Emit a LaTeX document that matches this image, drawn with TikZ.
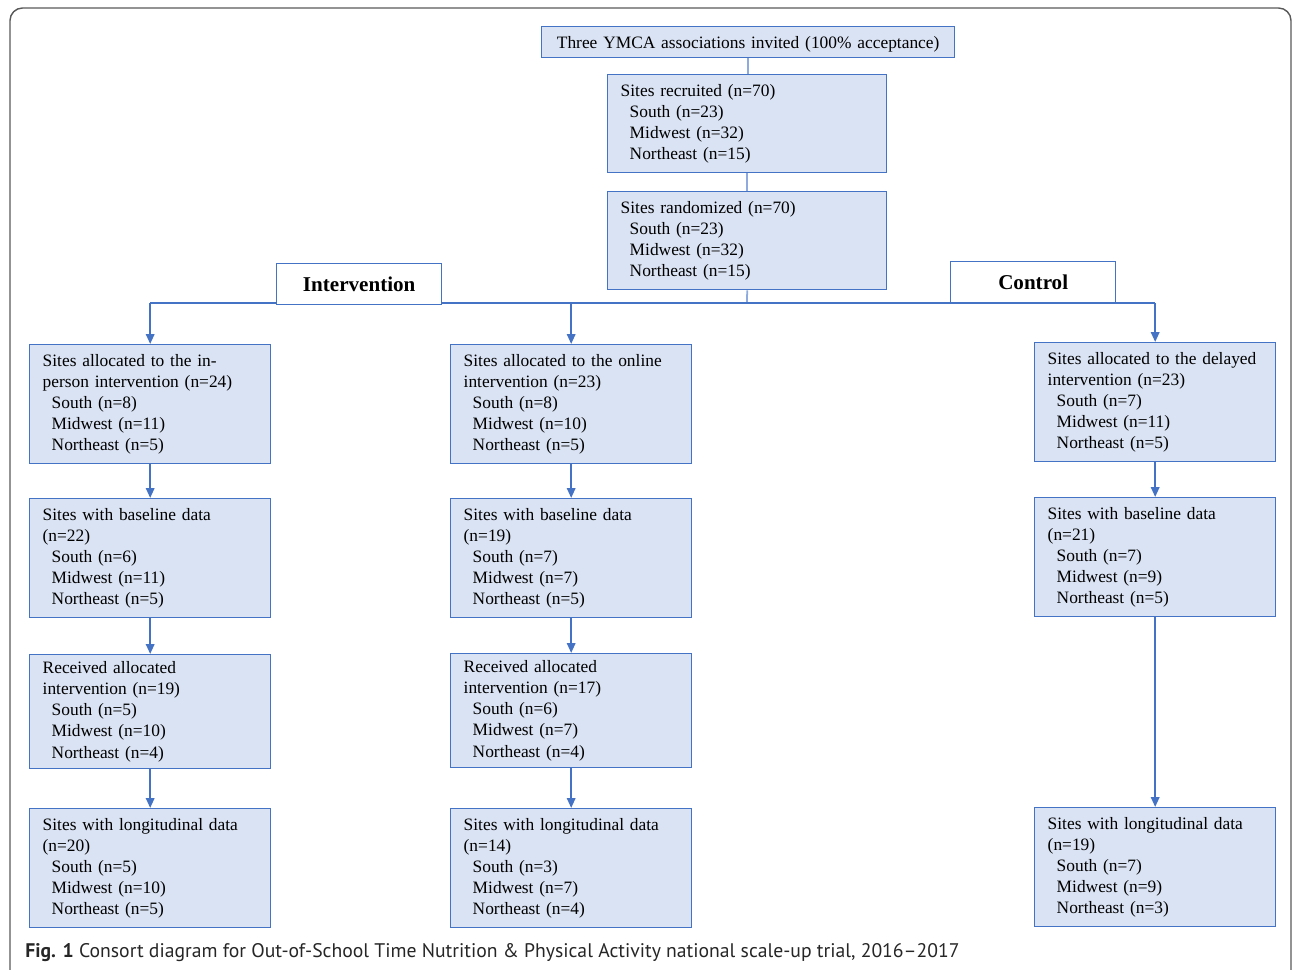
\documentclass[tikz,border=0pt]{standalone}
\usepackage{fontspec}
\setmainfont{Liberation Serif}
\newfontfamily\capfont{PT Sans}
\usetikzlibrary{arrows.meta,positioning,calc}

\definecolor{boxfill}{HTML}{DAE3F3}
\definecolor{boxline}{HTML}{4472C4}
\definecolor{lightline}{HTML}{8FAADC}

\newcommand{\regind}{\hspace*{0.18cm}}

\tikzset{
  sitebox/.style={draw=boxline, fill=boxfill, line width=0.8pt, anchor=north west,
    align=left, inner xsep=0.26cm, inner ysep=0pt, text width=4.30cm,
    minimum height=2.38cm, font=\fontsize{9.9}{12}\selectfont},
  armbox/.style={draw=boxline, fill=white, line width=0.8pt, anchor=north west,
    minimum width=3.3cm, minimum height=0.82cm, inner sep=0pt,
    font=\fontsize{12}{14}\selectfont\bfseries},
  flow/.style={draw=boxline, line width=1.1pt, -{Triangle[length=0.2cm,width=0.17cm]}},
  plain/.style={draw=lightline, line width=1pt},
}

\begin{document}
\begin{tikzpicture}[x=0.02cm,y=-0.02cm]
\clip (0,0) rectangle (1292,970);
\draw[gray!70!black, line width=0.8pt, rounded corners=0.25cm] (10,8) rectangle (1291,1010);

% top of the trial
\node[sitebox, align=center, text width=8.26cm, inner xsep=0pt, minimum height=0.62cm, text depth=0pt] (top) at (541,26)
  {Three YMCA associations invited (100\% acceptance)};
\node[sitebox, text width=5.06cm, minimum height=1.96cm] (recruit) at (607,74)
  {Sites recruited (n=70)\\\regind South (n=23)\\\regind Midwest (n=32)\\\regind Northeast (n=15)};
\node[sitebox, text width=5.06cm, minimum height=1.96cm] (random) at (607,191)
  {Sites randomized (n=70)\\\regind South (n=23)\\\regind Midwest (n=32)\\\regind Northeast (n=15)};

% intervention arms
\node[sitebox] (alloc1) at (29,344)
  {Sites allocated to the in-\\person intervention (n=24)\\\regind South (n=8)\\\regind Midwest (n=11)\\\regind Northeast (n=5)};
\node[sitebox] (base1) at (29,498)
  {Sites with baseline data\\(n=22)\\\regind South (n=6)\\\regind Midwest (n=11)\\\regind Northeast (n=5)};
\node[sitebox, minimum height=2.28cm] (recv1) at (29,654)
  {Received allocated\\intervention (n=19)\\\regind South (n=5)\\\regind Midwest (n=10)\\\regind Northeast (n=4)};
\node[sitebox] (long1) at (29,808)
  {Sites with longitudinal data\\(n=20)\\\regind South (n=5)\\\regind Midwest (n=10)\\\regind Northeast (n=5)};

\node[sitebox] (alloc2) at (450,344)
  {Sites allocated to the online\\intervention (n=23)\\\regind South (n=8)\\\regind Midwest (n=10)\\\regind Northeast (n=5)};
\node[sitebox] (base2) at (450,498)
  {Sites with baseline data\\(n=19)\\\regind South (n=7)\\\regind Midwest (n=7)\\\regind Northeast (n=5)};
\node[sitebox, minimum height=2.28cm] (recv2) at (450,653)
  {Received allocated\\intervention (n=17)\\\regind South (n=6)\\\regind Midwest (n=7)\\\regind Northeast (n=4)};
\node[sitebox] (long2) at (450,808)
  {Sites with longitudinal data\\(n=14)\\\regind South (n=3)\\\regind Midwest (n=7)\\\regind Northeast (n=4)};

% control arm
\node[sitebox] (alloc3) at (1034,342)
  {\mbox{Sites allocated to the delayed}\\intervention (n=23)\\\regind South (n=7)\\\regind Midwest (n=11)\\\regind Northeast (n=5)};
\node[sitebox] (base3) at (1034,497)
  {Sites with baseline data\\(n=21)\\\regind South (n=7)\\\regind Midwest (n=9)\\\regind Northeast (n=5)};
\node[sitebox] (long3) at (1034,807)
  {Sites with longitudinal data\\(n=19)\\\regind South (n=7)\\\regind Midwest (n=9)\\\regind Northeast (n=3)};

% connectors
\coordinate (split) at (747,303);
\draw[plain] (top.south) -- (top.south |- recruit.north);
\draw[plain] (recruit.south) -- (random.north);
\draw[plain] (random.south) -- (split);
\draw[boxline, line width=1.1pt] (alloc1.north |- split) -- (alloc3.north |- split);
\draw[flow] (alloc1.north |- split) -- (alloc1.north);
\draw[flow] (alloc2.north |- split) -- (alloc2.north);
\draw[flow] (alloc3.north |- split) -- (alloc3.north);

\node[armbox] (interv) at (276,263) {Intervention};
\node[armbox] (control) at (950,261) {Control};

\foreach \col in {1,2}
  {
    \draw[flow] (alloc\col) -- (base\col);
    \draw[flow] (base\col) -- (recv\col);
    \draw[flow] (recv\col) -- (long\col);
  }
\draw[flow] (alloc3) -- (base3);
\draw[flow] (base3) -- (long3);

% caption
\node[anchor=west, inner sep=0pt, text=black!85, font=\capfont\fontsize{11.2}{13}\selectfont] (cap) at (25,953)
  {\textbf{Fig. 1} Consort diagram for Out-of-School Time Nutrition \& Physical Activity national scale-up trial, 2016–2017};
\end{tikzpicture}
\end{document}
